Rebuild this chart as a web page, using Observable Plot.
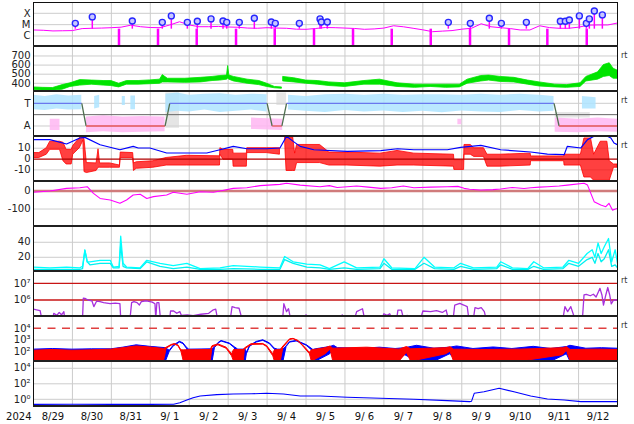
<!DOCTYPE html>
<html><head><meta charset="utf-8">
<script src="https://cdn.jsdelivr.net/npm/d3@7"></script>
<script src="https://cdn.jsdelivr.net/npm/@observablehq/plot@0.6"></script>
<style>
body{margin:0;background:#fff;}
#chart{position:relative;width:634px;height:424px;overflow:hidden;font-family:"DejaVu Sans",sans-serif;}
.sep{position:absolute;background:#202020;}
.rt{position:absolute;left:621px;font-size:8px;color:#333;font-family:"DejaVu Sans",sans-serif;}
</style></head><body><div id="chart"></div>
<script>
// ---------- time axis ----------
const dayStarts = [1,2,3,4,5,6,7,8,9,10,11,12,13,14];
const dateNoon = [0.5,1.5,2.5,3.5,4.5,5.5,6.5,7.5,8.5,9.5,10.5,11.5,12.5,13.5,14.5];
const dateLabels = ["8/29","8/30","8/31","9/ 1","9/ 2","9/ 3","9/ 4","9/ 5","9/ 6","9/ 7","9/ 8","9/ 9","9/10","9/11","9/12"];
const yearLabel = ["2024"];

// ---------- panel 1: X-ray flux (units 1e-6 W/m2) ----------
const xrayTicks = [1, 10, 100];
const xrayTickLabels = ["C", "M", "X"];
const xrayTime = [0,0.25,0.5,0.75,1,1.25,1.5,1.75,2,2.25,2.5,2.75,3,3.25,3.5,3.75,4,4.25,4.5,4.75,5,5.25,5.5,5.75,6,6.25,6.5,6.75,7,7.25,7.5,7.75,8,8.25,8.5,8.75,9,9.25,9.5,9.75,10,10.25,10.5,10.75,11,11.25,11.5,11.75,12,12.25,12.5,12.75,13,13.25,13.5,13.75,14,14.25,14.5,14.75,15];
const xrayFlux = [3.4,3.2,2.8,2.9,3.0,4.5,4.8,5.0,5.4,6.0,9.0,6.6,5.6,5.4,9.4,18,9.4,6.6,6.6,7.0,6.2,5.9,5.0,4.8,5.4,5.0,4.8,4.0,3.9,4.6,5.6,5.4,5.0,4.6,3.9,4.2,5.0,8.0,6.5,4.8,3.5,2.4,2.7,3.0,4.0,4.8,12,6.5,5.4,4.5,3.4,3.4,8.0,5.5,4.8,4.8,6.0,9.0,9.4,9.4,14];
const flareTime = [1.074,1.510,2.538,3.308,3.540,3.951,4.208,4.560,4.868,4.963,5.286,5.672,6.108,6.211,6.828,7.360,7.393,7.547,10.655,11.220,11.708,12.017,12.659,13.532,13.660,13.763,14.020,14.200,14.277,14.405,14.611];
const flarePeak = [13,48,21,16,59,16,20,32,21,16,16,37,17,13,13,32,17,17,16,13,37,13,16,20,20,26,59,13,32,160,72];
const flareBase = 4;
const dropTime = [2.196,3.198,4.192,5.202,6.196,7.205,8.207,9.201,10.203,11.212,12.214,13.198,14.21];

// ---------- panel 2: solar wind speed ----------
const speedTicks = [400,500,600,700];
const swTime = [0,0.25,0.5,0.75,0.95,1.2,1.5,1.8,2.0,2.2,2.4,2.7,3.0,3.25,3.32,3.45,3.9,4.3,4.6,4.8,4.97,5.0,5.03,5.15,5.5,5.8,6.0,6.2,6.38,6.39,6.42,6.7,7.0,7.3,7.6,8.0,8.5,8.9,9.35,9.8,10.2,10.6,10.95,11.15,11.5,11.7,12.0,12.35,12.7,13.0,13.4,13.7,14.05,14.2,14.5,14.65,14.8,14.9,15.0];
const swLo = [325,320,318,330,360,375,385,375,370,355,385,385,390,395,410,410,405,410,425,430,440,450,440,420,395,380,360,345,340,null,420,410,395,385,370,360,385,385,360,350,360,350,355,395,420,430,415,410,385,365,355,350,360,420,440,470,480,450,450];
const swHi = [355,350,348,380,400,435,430,425,425,395,425,425,432,440,490,450,450,460,470,480,485,590,485,470,440,425,395,360,355,null,470,455,430,425,410,400,425,440,400,385,385,385,385,440,480,485,470,460,430,410,385,380,400,470,520,600,620,560,540];

// ---------- panel 3: IMF sector (1 = T, 0 = A) ----------
const sectorTicks = [0, 1];
const sectorLabels = ["A", "T"];
const sectorMid = [0.5];
const sectorTime = [0,1.24,1.35,3.38,3.50,6.0,6.13,6.38,6.5,13.37,13.5,15];
const sectorPol = [1,1,0,0,1,1,0,0,1,1,0,0];
const towardTime = [0,0.3,0.6,0.9,1.24,1.25,1.57,1.70,1.71,2.28,2.36,2.37,2.5,2.62,2.63,3.40,3.7,4.0,4.4,4.8,5.2,5.6,6.0,6.01,6.55,7.0,7.5,8.0,8.5,9.0,9.5,10.0,10.5,11.0,11.5,12.0,12.5,13.0,13.37,13.38,14.1,14.45];
const towardLo = [.72,.68,.75,.7,.72,null,.75,.8,null,.9,.9,null,.72,.72,null,.6,.65,.62,.7,.6,.65,.7,.62,null,.7,.65,.6,.68,.62,.66,.6,.65,.58,.66,.62,.6,.68,.62,.65,null,.75,.75];
const towardHi = [1.35,1.3,1.38,1.32,1.35,null,1.3,1.35,null,1.3,1.3,null,1.32,1.32,null,1.4,1.45,1.35,1.4,1.42,1.35,1.4,1.38,null,1.35,1.3,1.38,1.4,1.35,1.4,1.35,1.38,1.38,1.35,1.4,1.36,1.4,1.35,1.3,null,1.3,1.25];
const awayTime = [0.43,0.68,0.69,1.36,1.8,2.3,2.8,3.38,3.39,5.6,6.4,6.41,10.9,11.0,11.01,13.4,14.0,14.5,15];
const awayLo = [-.2,-.2,null,-.3,-.25,-.3,-.28,-.25,null,-.15,-.2,null,.05,.05,null,-.28,-.3,-.25,-.28];
const awayHi = [.3,.3,null,.4,.45,.4,.42,.4,null,.35,.3,null,.3,.3,null,.35,.3,.35,.3];
const grayTime = [3.40,3.75,3.76,6.25,6.5,6.51,13.4,14.3];
const grayLo = [-.1,-.1,null,.9,.9,null,.35,.35];
const grayHi = [1.45,1.45,null,1.45,1.45,null,.6,.6];

// ---------- panel 4: IMF Bt / Bz ----------
const imfTicks = [10, 0, -10];
const btTime = [0,0.42,0.85,1.19,1.32,1.71,2.22,2.56,2.69,2.99,3.42,3.94,4.45,4.79,5.13,5.48,5.99,6.33,6.5,6.67,6.85,7.2,8.06,8.92,9.35,9.77,10.63,10.97,11.49,12.0,12.77,13.2,13.63,13.71,14.06,14.23,14.40,14.74,14.83,14.91,15];
const btVal = [17.9,17.9,13.9,19.4,20,13.2,8.6,11.7,10.2,10.2,5.6,5.6,5.6,8.6,11.7,9.5,9.5,10.2,21,16.3,11.7,8.6,7,7.7,9.5,8.6,8.6,10.7,12.6,8.6,6.5,4.6,4,11.7,10.2,17.9,21,21,19.4,14.8,13.2];
const bzTime = [0,0.15,0.34,0.43,0.68,0.77,0.85,0.98,1.02,1.19,1.28,1.31,1.37,1.62,1.67,1.71,1.97,2.22,2.24,2.56,2.58,2.65,3.08,3.42,3.94,4.79,4.80,4.88,5.13,5.14,5.48,5.49,5.99,6.33,6.38,6.47,6.5,6.67,6.72,6.77,7.36,7.6,8.06,8.91,9.35,9.78,10.8,10.81,11.06,11.07,11.23,11.32,11.57,11.66,12.0,12.77,12.78,13.63,13.64,14.06,14.15,14.32,14.4,14.57,14.74,14.8,14.91,15];
const bzLo = [1,1,4,8.5,8.5,-2,-5,-5,4,10,17,-12,-12.9,-11,-8,-8,-8,-8,1,1,-11,-9,-8,-6,-6,-6,4,-0.6,-0.6,-7,-7,5.5,5.5,4,null,10,-11,-11,-11,-3.7,-3.7,-6,-6,-7,-6,-6,-7,-10,-10,4,4,2,2,-7,-7,-6,-2,-2,-6,-6,-17,-17,-20,-20,-20,-20,-8,-8];
const bzHi = [5.5,5.5,10,16,16,15,8.5,8.5,12,19.4,20,18,-3.7,-4,9,-4,-4,-6,6,5.5,-4,-3,-2,1,3,2.5,10,8.5,8.5,5,5,10,10,10,null,20,20,20,5,13,13,6,6,5,7.5,5,4,-1,-1,13,13,10,10,4,4,5,2.4,2.4,4,4,19,19,4,16,16,-2,-5,-5];

// ---------- panel 5: Dst ----------
const dstTicks = [0, -100];
const dstTime = [0,0.42,0.85,1.19,1.38,1.54,1.71,1.97,2.22,2.39,2.56,2.74,2.91,3.08,3.42,3.59,3.94,4.28,4.62,4.79,5.13,5.48,5.82,6.33,6.5,6.85,7.36,7.6,7.8,8.06,8.3,8.6,8.92,9.2,9.5,9.77,10.2,10.63,10.9,11.06,11.2,11.49,11.8,12.0,12.3,12.6,12.77,13.0,13.2,13.5,13.71,14.14,14.23,14.40,14.57,14.70,14.78,14.87,15];
const dstVal = [-7,0,15,18,24,-13,-41,-50,-68,-50,-22,-18,-41,-31,-22,-7,-18,-4,-7,0,15,18,30,37,43,33,24,30,20,24,28,22,15,18,28,18,22,24,26,15,10,6,8,11,20,14,18,22,24,28,33,43,33,-59,-78,-87,-68,-106,-96];

// ---------- panel 6: cyan index (two series) ----------
const p6Ticks = [20, 40];
const cyanTime = [0,0.42,0.85,1.19,1.26,1.32,1.38,1.45,1.71,1.97,2.05,2.20,2.24,2.30,2.39,2.74,2.91,3.25,3.59,3.94,4.28,4.79,5.13,5.82,6.33,6.45,6.67,7.02,7.36,7.6,7.98,8.3,8.9,9.0,9.2,9.8,10.03,10.3,10.8,10.97,11.3,11.9,12.0,12.3,12.7,12.85,13.1,13.6,13.75,14.0,14.22,14.35,14.42,14.5,14.58,14.66,14.77,14.85,14.94,15];
const cyanA = [7,6,7,6,8,30,14,14,16,16,7,8,48,12,7,6,16,12,9,12,5,6,9,7,6,21,14,11,10,5,14,6,7,18,6,5,20,7,6,12,6,7,14,6,5,14,6,7,16,12,25,30,20,39,25,34,45,14,30,12];
const cyanB = [4,4,4,4,5,29,14,10,12,12,6,6,37,8,6,5,14,8,5,7,4,4,5,4,4,17,12,7,6,4,6,4,5,12,4,4,12,5,4,8,4,5,10,4,4,8,4,5,12,8,17,20,12,25,14,18,30,8,10,6];

// ---------- panel 7: electron flux ----------
const p7Ticks = [1e6, 1e7];
const p7TickLabels = ["10\u2076", "10\u2077"];
const p7Levels = [1e6, 1e7];
const purpleTime = [0,0.08,0.17,0.21,0.5,0.52,0.6,0.66,0.72,0.78,0.8,1.26,1.28,1.32,1.40,1.50,1.55,1.62,1.71,1.80,1.97,2.1,2.22,2.24,2.48,2.52,2.58,2.66,2.72,2.77,2.9,3.05,3.12,3.14,3.17,3.22,3.26,3.5,3.52,3.6,3.68,3.76,3.8,3.95,4.1,4.3,4.5,4.62,4.68,4.72,5.06,5.1,5.18,5.28,5.35,6.4,6.43,6.5,6.55,6.6,6.95,7.0,7.05,7.9,7.93,7.96,8.25,8.3,8.45,8.5,8.95,9.0,9.08,9.15,9.2,9.33,9.36,9.45,9.5,9.6,9.65,9.95,10.0,10.2,10.35,10.5,10.6,10.65,10.78,10.82,10.95,11.05,11.14,11.18,11.3,11.34,11.42,11.5,11.58,11.62,12.0,12.02,12.05,13.6,13.65,13.72,13.8,13.88,13.92,14.1,14.14,14.2,14.3,14.38,14.45,14.55,14.6,14.64,14.7,14.75,14.8,14.84,14.9,15];
const purpleVal = [2.8e5,2.6e5,2.3e5,8e4,8e4,1.6e5,1.2e5,1.8e5,1.3e5,2e5,8e4,8e4,1.3e6,1.25e6,1.0e6,9e5,4e5,8.5e5,7.9e5,7e5,6e5,6.5e5,6e5,8e4,8e4,7e5,8e5,7e5,5e5,8e5,9e5,7.5e5,6e5,8e4,7e5,7e5,8e4,8e4,2.2e5,2.2e5,1.6e5,2e5,1.2e5,1.3e5,1.15e5,1.4e5,1.6e5,2.6e5,2.8e5,9e4,9e4,4e5,3.5e5,3.2e5,8e4,8e4,6e5,2e5,3e5,8e4,8e4,1.3e5,8e4,8e4,1.3e5,8e4,8e4,2e5,3e5,8e4,8e4,1.5e5,1.2e5,1.5e5,8e4,8e4,2.5e5,2.5e5,8e4,1.2e5,8e4,8e4,2.2e5,2e5,2.3e5,1.8e5,2.5e5,8e4,8e4,5e5,6.3e5,5e5,4e5,8e4,8e4,3.5e5,3e5,3.5e5,2e5,8e4,8e4,1.2e5,8e4,8e4,4e5,2e5,4e5,1.1e5,8e4,8e4,2e6,2.2e6,1.8e6,2.2e6,1.5e6,5e6,2e6,5e5,2e6,5.6e6,2e6,5.8e5,1e6,1e6];

// ---------- panel 8: particle flux (blue / red) ----------
const p8Ticks = [1e2, 1e3, 1e4];
const p8TickLabels = ["10\u00b2", "10\u00b3", "10\u2074"];
const p8Threshold = [1e4];
const pBlueTime = [0,0.5,1.0,1.5,2.0,2.3,2.65,3.0,3.4,3.5,3.6,3.76,3.85,3.94,4.0,4.6,4.66,4.75,4.83,5.04,5.17,5.26,5.45,5.48,5.56,5.73,5.9,6.07,6.2,6.28,6.42,6.5,6.59,6.76,7.02,7.19,7.25,7.62,7.72,7.82,8.5,8.9,9.3,9.55,9.85,10.3,10.7,10.88,11.3,11.82,12.3,12.85,13.3,13.7,13.79,14.2,14.6,15];
const pBlueLo = [14,14,14,14,14,14,14,14,14,100,280,600,450,180,14,14,200,480,750,450,200,14,14,60,260,600,850,450,150,14,14,250,600,750,320,100,14,60,200,14,14,14,14,50,14,14,60,14,14,14,14,14,14,60,14,14,14,14];
const pBlueHi = [150,170,150,160,160,220,350,260,200,120,330,700,520,220,150,160,230,540,820,500,240,150,150,80,300,680,950,520,180,150,150,290,660,830,360,140,160,250,320,200,180,220,170,200,320,180,220,280,170,230,170,260,170,250,320,180,200,180];
const pRedTime = [0,0.5,1.0,1.5,2.0,2.3,2.65,3.0,3.35,3.42,3.55,3.63,3.72,3.8,3.86,4.55,4.6,4.75,4.96,5.1,5.15,5.4,5.43,5.6,5.9,6.0,6.16,6.2,6.35,6.42,6.59,6.68,6.8,6.93,7.1,7.15,7.5,7.63,7.7,8.57,9.4,9.59,9.7,10.6,10.71,10.8,11.5,12.5,13.6,13.7,13.8,14.5,15];
const pRedLo = [14,14,14,14,14,14,14,14,14,180,330,400,300,100,14,14,240,350,180,40,14,14,150,380,400,250,40,14,14,220,1000,1150,750,280,60,14,60,150,14,14,14,80,14,60,100,14,14,14,50,120,14,14,14];
const pRedHi = [120,140,120,130,150,200,280,230,170,220,380,450,350,130,130,140,300,420,220,60,140,140,190,440,460,300,60,130,140,280,1150,1250,850,330,80,130,200,280,180,220,150,250,160,200,240,150,140,150,200,240,140,150,140];

// ---------- panel 9: blue flux ----------
const p9Ticks = [1, 1e2, 1e4];
const p9TickLabels = ["10\u2070", "10\u00b2", "10\u2074"];
const p9Time = [0,1,2,3,3.6,3.76,3.94,4.1,4.28,4.71,5.13,5.6,5.99,6.42,6.85,7.36,8.06,8.91,9.77,10.63,11.2,11.25,11.32,11.57,11.96,12.34,12.77,13.2,13.63,14.06,15];
const p9Val = [0.22,0.23,0.22,0.22,0.23,0.35,0.8,1.6,2.7,4.0,4.8,5.2,5.9,4.8,2.7,2.7,1.8,1.35,1.0,0.68,0.5,0.55,5.9,9.5,26,9.5,2.7,1.1,0.81,0.5,0.5];

// ---------- helpers ----------
const W = 634, ML = 33, MR = 17;
const FONT = '"DejaVu Sans", sans-serif';
const GRID = "#cccccc";
const DAY0 = Date.UTC(2024, 7, 29);
const toDate = t => new Date(DAY0 + t * 86400000);
const xDomain = [toDate(0), toDate(15)];
const chart = document.getElementById("chart");
const bounds = [2, 46, 91, 136, 181, 226, 271, 316, 361, 406];

function table(times, cols) {
  return times.map((t, i) => {
    const r = {t: toDate(t)};
    for (const k in cols) r[k] = cols[k][i];
    return r;
  });
}
const lookup = (ticks, labels) => d => labels[ticks.indexOf(d)];
const yAxis = (ticks, fmt) => Plot.axisY(ticks, {anchor: "left", tickSize: 0, tickPadding: 3, tickFormat: fmt, fontSize: 10, label: null});
const baseStyle = {background: "transparent", overflow: "visible", fontFamily: FONT, fontSize: "10px", color: "#222"};

function addPanel(i, y, marks) {
  const top = bounds[i], height = bounds[i + 1] - bounds[i];
  const svg = Plot.plot({
    width: W, height, marginLeft: ML, marginRight: MR, marginTop: 0, marginBottom: 0,
    style: baseStyle,
    x: {type: "utc", domain: xDomain, axis: null},
    y: {...y, axis: null},
    color: {type: "identity"},
    marks: [
      Plot.gridX(dayStarts.map(toDate), {stroke: GRID, strokeOpacity: 1}),
      ...marks,
      Plot.frame({stroke: "#111"})
    ]
  });
  Object.assign(svg.style, {position: "absolute", left: "0px", top: top + "px"});
  chart.appendChild(svg);
}

// ---------- panel 1 ----------
const xray = table(xrayTime, {v: xrayFlux});
const flares = table(flareTime, {v: flarePeak});
addPanel(0, {type: "log", domain: [0.119, 895]}, [
  Plot.gridY(xrayTicks, {stroke: GRID, strokeOpacity: 1}),
  Plot.line(xray, {x: "t", y: "v", stroke: "#ff00ff", strokeWidth: 1, clip: true}),
  Plot.ruleX(dropTime, {x: d => toDate(d), y1: 0.01, y2: flareBase, stroke: "#ff00ff", strokeWidth: 2.5, clip: true}),
  Plot.ruleX(flares, {x: "t", y1: flareBase, y2: "v", stroke: "#ff00ff", strokeWidth: 1.5, clip: true}),
  Plot.dot(flares, {x: "t", y: "v", r: 3, stroke: "#2626ff", fill: "#c8c8ff", strokeWidth: 1.4}),
  yAxis(xrayTicks, lookup(xrayTicks, xrayTickLabels))
]);

// ---------- panel 2 ----------
const sw = table(swTime, {lo: swLo, hi: swHi});
addPanel(1, {domain: [310, 804]}, [
  Plot.gridY(speedTicks, {stroke: GRID, strokeOpacity: 1}),
  Plot.areaY(sw, {x: "t", y1: "lo", y2: "hi", fill: "#00e400", stroke: "#00e400", strokeWidth: 0.8, clip: true}),
  yAxis(speedTicks, d => String(d))
]);

// ---------- panel 3 ----------
const toward = table(towardTime, {lo: towardLo, hi: towardHi});
const away = table(awayTime, {lo: awayLo, hi: awayHi});
const grayDots = table(grayTime, {lo: grayLo, hi: grayHi});
const sectorSegs = sectorTime.slice(1).map((t, i) => ({
  t1: toDate(sectorTime[i]), p1: sectorPol[i], t2: toDate(t), p2: sectorPol[i + 1]
}));
addPanel(2, {domain: [-0.463, 1.52]}, [
  Plot.gridY(sectorTicks, {stroke: GRID, strokeOpacity: 1}),
  Plot.areaY(grayDots, {x: "t", y1: "lo", y2: "hi", fill: "#d4d4d4", fillOpacity: 0.6, clip: true}),
  Plot.areaY(away, {x: "t", y1: "lo", y2: "hi", fill: "#ffb6f2", fillOpacity: 0.85, clip: true}),
  Plot.areaY(toward, {x: "t", y1: "lo", y2: "hi", fill: "#aee4ff", fillOpacity: 0.85, clip: true}),
  Plot.ruleY(sectorMid, {stroke: "#666"}),
  Plot.link(sectorSegs, {x1: "t1", y1: "p1", x2: "t2", y2: "p2",
    stroke: d => d.p1 !== d.p2 ? "#4f6f4f" : (d.p1 ? "#6a78ee" : "#e25555"), strokeWidth: 1.3, clip: true}),
  yAxis(sectorTicks, lookup(sectorTicks, sectorLabels))
]);

// ---------- panel 4 ----------
const bt = table(btTime, {v: btVal});
const bz = table(bzTime, {lo: bzLo, hi: bzHi});
addPanel(3, {domain: [-20.7, 20.8]}, [
  Plot.gridY([10, -10], {stroke: GRID, strokeOpacity: 1}),
  Plot.areaY(bz, {x: "t", y1: "lo", y2: "hi", fill: "#ff0000", fillOpacity: 0.75, stroke: "#ff0000", strokeWidth: 0.8, clip: true}),
  Plot.ruleY([0], {stroke: "#b00000", strokeWidth: 1.2}),
  Plot.line(bt, {x: "t", y: "v", stroke: "#0000ff", strokeWidth: 1.2, clip: true}),
  yAxis(imfTicks, d => String(d))
]);

// ---------- panel 5 ----------
const dst = table(dstTime, {v: dstVal});
addPanel(4, {domain: [-197, 53]}, [
  Plot.gridY([-100], {stroke: GRID, strokeOpacity: 1}),
  Plot.ruleY([0], {stroke: "#d07b7b", strokeWidth: 2.5}),
  Plot.line(dst, {x: "t", y: "v", stroke: "#ff00ff", strokeWidth: 1.1, clip: true}),
  yAxis(dstTicks, d => String(d))
]);

// ---------- panel 6 ----------
const cyan = table(cyanTime, {a: cyanA, b: cyanB});
addPanel(5, {domain: [1.07, 61]}, [
  Plot.gridY(p6Ticks, {stroke: GRID, strokeOpacity: 1}),
  Plot.line(cyan, {x: "t", y: "b", stroke: "#00f0f0", strokeWidth: 1.3, clip: true}),
  Plot.line(cyan, {x: "t", y: "a", stroke: "#00ffff", strokeWidth: 1.3, clip: true}),
  yAxis(p6Ticks, d => String(d))
]);

// ---------- panel 7 ----------
const purple = table(purpleTime, {v: purpleVal});
addPanel(6, {type: "log", domain: [1.028e5, 5.09e7]}, [
  Plot.ruleY(p7Levels, {stroke: "#c81414", strokeWidth: 1.3}),
  Plot.line(purple, {x: "t", y: "v", stroke: "#a630dc", strokeWidth: 1.3, clip: true}),
  yAxis(p7Ticks, lookup(p7Ticks, p7TickLabels))
]);

// ---------- panel 8 ----------
const pBlue = table(pBlueTime, {lo: pBlueLo, hi: pBlueHi});
const pRed = table(pRedTime, {lo: pRedLo, hi: pRedHi});
addPanel(7, {type: "log", domain: [14.5, 1.02e5]}, [
  Plot.gridY([1e2, 1e3], {stroke: GRID, strokeOpacity: 1}),
  Plot.ruleY(p8Threshold, {stroke: "#e04040", strokeWidth: 1.5, strokeDasharray: "8,6.5"}),
  Plot.areaY(pBlue, {x: "t", y1: "lo", y2: "hi", fill: "#0000ff", stroke: "#0000ff", strokeWidth: 1, clip: true}),
  Plot.areaY(pRed, {x: "t", y1: "lo", y2: "hi", fill: "#ff0000", stroke: "#ff0000", strokeWidth: 1, clip: true}),
  yAxis(p8Ticks, lookup(p8Ticks, p8TickLabels))
]);

// ---------- panel 9 ----------
const p9 = table(p9Time, {v: p9Val});
addPanel(8, {type: "log", domain: [0.1178, 7.53e4]}, [
  Plot.gridY(p9Ticks, {stroke: GRID, strokeOpacity: 1}),
  Plot.line(p9, {x: "t", y: "v", stroke: "#0000ff", strokeWidth: 1.1, clip: true}),
  yAxis(p9Ticks, lookup(p9Ticks, p9TickLabels))
]);

// ---------- x axis labels ----------
const axisSvg = Plot.plot({
  width: W, height: 20, marginLeft: ML, marginRight: MR, marginTop: 0, marginBottom: 0,
  style: baseStyle,
  x: {type: "utc", domain: xDomain, axis: null},
  marks: [
    Plot.text(dateLabels, {x: (d, i) => toDate(dateNoon[i]), text: d => d, frameAnchor: "middle", fontSize: 10, fill: "#111"}),
    Plot.text(yearLabel, {text: d => d, frameAnchor: "left", textAnchor: "end", dx: -2, fontSize: 10, fill: "#111"})
  ]
});
Object.assign(axisSvg.style, {position: "absolute", left: "0px", top: bounds[9] + "px"});
chart.appendChild(axisSvg);

// ---------- thick separators ----------
bounds.slice(1).forEach(b => {
  const d = document.createElement("div");
  d.className = "sep";
  Object.assign(d.style, {left: ML + "px", width: (W - ML - MR + 1) + "px", top: (b - 1) + "px", height: "2px"});
  chart.appendChild(d);
});

// ---------- "rt" markers ----------
[1, 2, 3, 6, 7].forEach(i => {
  const d = document.createElement("div");
  d.className = "rt";
  d.textContent = "rt";
  d.style.top = (bounds[i] + 5) + "px";
  chart.appendChild(d);
});
</script></body></html>
